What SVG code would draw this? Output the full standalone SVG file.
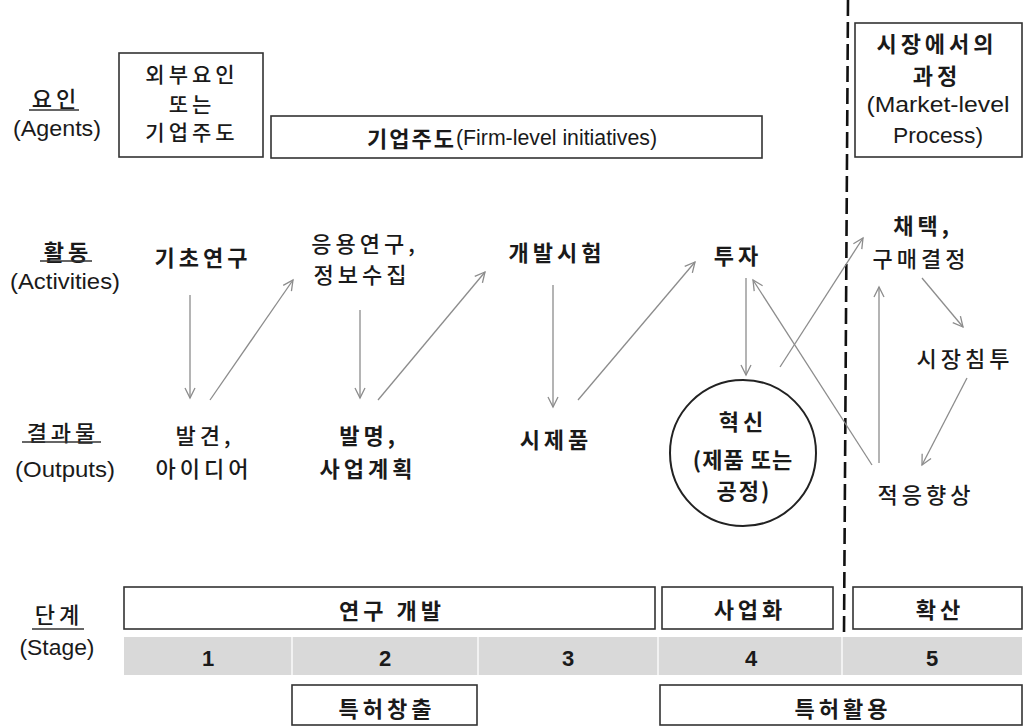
<svg xmlns="http://www.w3.org/2000/svg" width="1028" height="727" viewBox="0 0 1028 727">
<style>
text{font-family:"Noto Sans CJK KR","Liberation Sans",sans-serif;fill:#1a1a1a;text-anchor:middle;dominant-baseline:central}
.k{font-size:22px;letter-spacing:4px;font-weight:500}
.kb{font-size:22px;letter-spacing:4px;font-weight:700}
.e{font-family:"Liberation Sans","Noto Sans CJK KR",sans-serif;font-size:22px}
.box{fill:#fff;stroke:#333;stroke-width:1.6}
.ul{stroke:#333;stroke-width:1.3}
.arr{stroke:#8c8c8c;stroke-width:1.3;fill:none;marker-end:url(#ah)}
.num{font-family:"Liberation Sans",sans-serif;font-size:22px;font-weight:700}
</style>
<defs>
<marker id="ah" markerUnits="userSpaceOnUse" markerWidth="14" markerHeight="12" refX="11" refY="6" orient="auto" viewBox="0 0 14 12">
<path d="M1,1 L11,6 L1,11" fill="none" stroke="#8c8c8c" stroke-width="1.3"/>
</marker>
</defs>
<rect width="1028" height="727" fill="#fff"/>

<g id="row-labels">
<text class="k" x="56" y="97">요인</text>
<line class="ul" x1="29" y1="110" x2="79" y2="110"/>
<text class="e" x="57" y="128" textLength="88" lengthAdjust="spacingAndGlyphs">(Agents)</text>
<text class="kb" x="68" y="250">활동</text>
<line class="ul" x1="40" y1="261" x2="92" y2="261"/>
<text class="e" x="65" y="281" textLength="110" lengthAdjust="spacingAndGlyphs">(Activities)</text>
<text class="k" x="63" y="431">결과물</text>
<line class="ul" x1="22" y1="442" x2="101" y2="442"/>
<text class="e" x="65" y="469" textLength="100" lengthAdjust="spacingAndGlyphs">(Outputs)</text>
<text class="k" x="59" y="613">단계</text>
<line class="ul" x1="32" y1="629" x2="84" y2="629"/>
<text class="e" x="57" y="647" textLength="75" lengthAdjust="spacingAndGlyphs">(Stage)</text>
</g>

<g id="agent-external">
<rect class="box" x="119" y="53" width="144" height="104"/>
<text class="k" x="192" y="73" style="font-size:21px">외부요인</text>
<text class="k" x="192" y="103" style="font-size:21px">또는</text>
<text class="k" x="192" y="131" style="font-size:21px">기업주도</text>
</g>
<g id="agent-firm">
<rect class="box" x="271" y="116" width="491" height="42"/>
<text x="512" y="137"><tspan class="kb" style="letter-spacing:2px">기업주도</tspan><tspan class="e" textLength="201" lengthAdjust="spacingAndGlyphs">(Firm-level initiatives)</tspan></text>
</g>
<g id="agent-market">
<rect class="box" x="855" y="23" width="167" height="134"/>
<text class="kb" x="937" y="42">시장에서의</text>
<text class="kb" x="937" y="74">과정</text>
<text class="e" x="938" y="104" textLength="143" lengthAdjust="spacingAndGlyphs">(Market-level</text>
<text class="e" x="938" y="135" textLength="90" lengthAdjust="spacingAndGlyphs">Process)</text>
</g>

<line id="divider" x1="848" y1="0" x2="844" y2="634" stroke="#111" stroke-width="2.6" stroke-dasharray="16 6"/>

<g id="n-basic"><text class="kb" x="203" y="256">기초연구</text></g>
<g id="n-applied"><text class="k" x="365" y="242">응용연구,</text><text class="k" x="362" y="273">정보수집</text></g>
<g id="n-devtest"><text class="kb" x="557" y="251">개발시험</text></g>
<g id="n-invest"><text class="kb" x="738" y="254">투자</text></g>
<g id="n-adopt"><text class="kb" x="923" y="224">채택,</text><text class="k" x="921" y="257">구매결정</text></g>
<g id="n-penetration"><text class="k" x="965" y="357">시장침투</text></g>
<g id="n-improve"><text class="k" x="926" y="493">적응향상</text></g>
<g id="n-discovery"><text class="k" x="205" y="434">발견,</text><text class="k" x="204" y="467">아이디어</text></g>
<g id="n-invention"><text class="kb" x="369" y="434">발명,</text><text class="kb" x="368" y="467">사업계획</text></g>
<g id="n-prototype"><text class="kb" x="556" y="438">시제품</text></g>
<g id="n-innovation">
<circle cx="743" cy="453" r="73" fill="#fff" stroke="#222" stroke-width="2"/>
<text class="kb" x="743" y="420">혁신</text>
<text class="kb" x="743" y="458" style="letter-spacing:1px">(제품 또는</text>
<text class="kb" x="744" y="489" style="letter-spacing:2px">공정)</text>
</g>

<g id="connectors">
<line class="arr" x1="190" y1="295" x2="190" y2="398"/>
<line class="arr" x1="210" y1="400" x2="293" y2="280"/>
<line class="arr" x1="360" y1="310" x2="360" y2="398"/>
<line class="arr" x1="378" y1="400" x2="485" y2="272"/>
<line class="arr" x1="553" y1="285" x2="553" y2="407"/>
<line class="arr" x1="578" y1="400" x2="695" y2="262"/>
<line class="arr" x1="746" y1="278" x2="746" y2="375"/>
<line class="arr" x1="780" y1="367" x2="863" y2="238"/>
<line class="arr" x1="872" y1="465" x2="753" y2="280"/>
<line class="arr" x1="879" y1="463" x2="879" y2="287"/>
<line class="arr" x1="922" y1="278" x2="963" y2="327"/>
<line class="arr" x1="967" y1="378" x2="922" y2="465"/>
</g>

<g id="stage-rd"><rect class="box" x="124" y="587" width="531" height="42"/><text class="kb" x="392" y="609">연구 개발</text></g>
<g id="stage-comm"><rect class="box" x="662" y="587" width="171" height="42"/><text class="kb" x="750" y="608">사업화</text></g>
<g id="stage-diff"><rect class="box" x="853" y="587" width="169" height="42"/><text class="kb" x="940" y="608">확산</text></g>

<g id="stage-numbers">
<rect x="124" y="637" width="898" height="38" fill="#d9d9d9"/>
<g stroke="#f2f2f2" stroke-width="2">
<line x1="292" y1="637" x2="292" y2="675"/>
<line x1="478" y1="637" x2="478" y2="675"/>
<line x1="658" y1="637" x2="658" y2="675"/>
<line x1="842" y1="637" x2="842" y2="675"/>
</g>
<text class="num" x="208" y="658">1</text>
<text class="num" x="385" y="658">2</text>
<text class="num" x="568" y="658">3</text>
<text class="num" x="751" y="658">4</text>
<text class="num" x="932" y="658">5</text>
</g>

<g id="patent-create"><rect class="box" x="292" y="685" width="185" height="40"/><text class="kb" x="387" y="707">특허창출</text></g>
<g id="patent-use"><rect class="box" x="660" y="685" width="362" height="40"/><text class="kb" x="843" y="707">특허활용</text></g>
</svg>
